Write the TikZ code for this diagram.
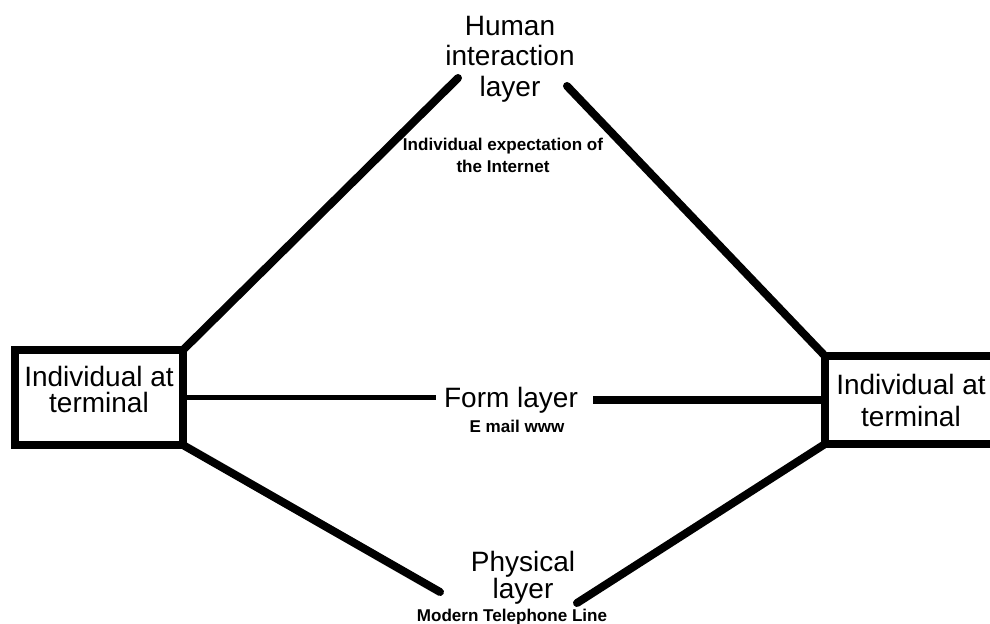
\documentclass[tikz,border=0pt]{standalone}
\usepackage{fontspec}
\setmainfont{Liberation Sans}
\usetikzlibrary{positioning}
\tikzset{
  term/.style={rectangle, draw, line width=6.5pt, outer sep=0pt, inner sep=0pt,
    align=center, font=\fontsize{21}{20}\selectfont},
  big/.style={inner sep=0pt, align=center, font=\fontsize{21}{23}\selectfont},
  small/.style={inner sep=0pt, align=center, font=\bfseries\fontsize{12.8}{16.5}\selectfont},
  link/.style={line width=6pt, line cap=round},
  thinlink/.style={line width=3.75pt}
}
\begin{document}
\begin{tikzpicture}[x=0.75pt,y=-0.75pt]
  \useasboundingbox (0,0) rectangle (990,624);
  \clip (0,0) rectangle (990,624);
  % terminals
  \node[term, minimum width=126pt, minimum height=71.25pt, text depth=12pt] (lterm) at (99,397.5) {Individual at\\terminal};
  \node[term, line width=6pt, minimum width=129pt, minimum height=66pt,
    font=\fontsize{21}{24}\selectfont] (rterm) at (911,400) {Individual at\\terminal};
  % layers
  \node[big] (human) at (510,59) {Human\\interaction\\layer};
  \node[small] (expect) at (503,155) {Individual expectation of\\the Internet};
  \node[big, anchor=base] (form) at (511,407) {Form layer};
  \node[small, anchor=base] (email) at (517,432) {E mail www};
  \node[big, font=\fontsize{21}{14}\selectfont] (phys) at (523,578) {Physical\\layer};
  \node[small, anchor=base] (modern) at (512,621) {Modern Telephone Line};
  \coordinate (humanL) at (458,78);
  \coordinate (humanR) at (567,86);
  \coordinate (formL) at (436,397.5);
  \coordinate (formR) at (593,400);
  \coordinate (physL) at (440,592);
  \coordinate (physR) at (577,603);
  \draw[link] (lterm.north east) -- (humanL);
  \draw[link] (humanR) -- (rterm.north west);
  \draw[thinlink] (lterm.east) -- (formL);
  \draw[line width=6pt] (formR) -- (rterm.west);
  \draw[link] (lterm.south east) -- (physL);
  \draw[link] (physR) -- (rterm.south west);
\end{tikzpicture}
\end{document}
